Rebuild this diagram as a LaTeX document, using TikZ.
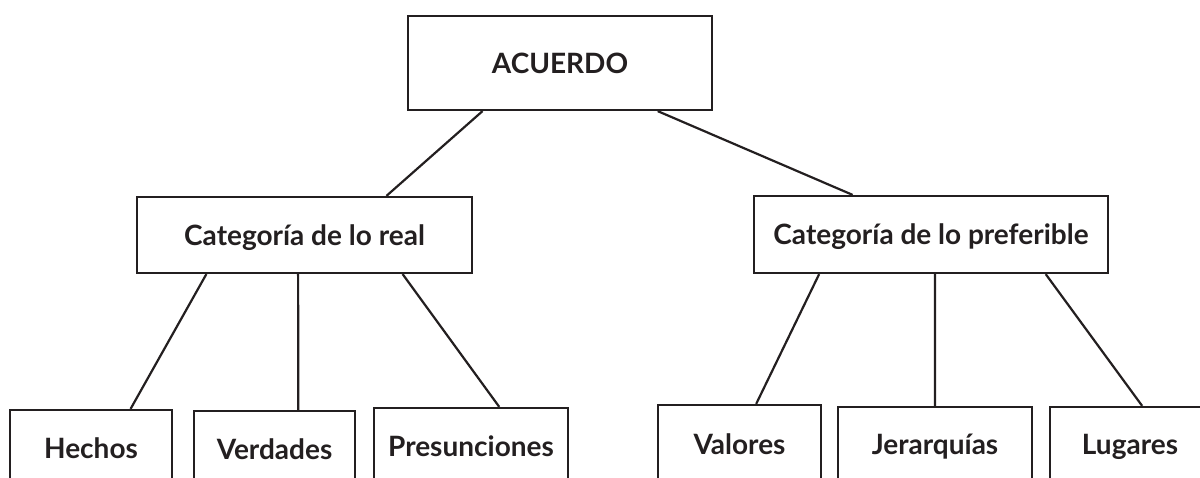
\documentclass[tikz,border=0pt]{standalone}
\usepackage{fontspec}
\setmainfont{Lato}
\usetikzlibrary{calc}
\definecolor{tinta}{RGB}{35,31,32}
\begin{document}
\begin{tikzpicture}[x=1pt, y=-1pt, line width=2.2pt, draw=tinta,
    caja/.style={draw=tinta, rectangle, inner sep=0pt, text=tinta,
      font=\bfseries\fontsize{28}{33}\selectfont, text height=20pt, text depth=0pt},
    hoja/.style={caja, minimum width=162pt, minimum height=76pt}]
  \useasboundingbox (0,0) rectangle (1200,477);
  \clip (0,0) rectangle (1200,477);
  % niveles superiores
  \node[caja, minimum width=304pt, minimum height=94pt] (acuerdo) at (560,63) {ACUERDO};
  \node[caja, minimum width=335pt, minimum height=76pt] (real) at (304.5,235) {Categoría de lo real};
  \node[caja, minimum width=354pt, minimum height=77pt] (preferible) at (931,234.5) {Categoría de lo preferible};
  % hojas
  \node[hoja] (hechos) at (91,448) {Hechos};
  \node[hoja, minimum width=161pt] (verdades) at (274.5,449) {Verdades};
  \node[hoja, minimum width=194pt] (presunciones) at (471,446) {Presunciones};
  \node[hoja, minimum width=163pt, minimum height=78pt] (valores) at (739.5,444) {Valores};
  \node[hoja, minimum width=194pt, minimum height=74pt] (jerarquias) at (935,444) {Jerarquías};
  \node[hoja, minimum width=160pt, minimum height=74pt] (lugares) at (1130,444) {Lugares};
  % conectores
  \foreach \a/\fa/\b/\fb in {acuerdo/0.247/real/0.743, acuerdo/0.819/preferible/0.280,
      real/0.209/hechos/0.741, real/0.481/verdades/0.646, real/0.791/presunciones/0.644,
      preferible/0.186/valores/0.601, preferible/0.511/jerarquias/0.5, preferible/0.822/lugares/0.575}
    \draw ($(\a.south west)!\fa!(\a.south east)$) -- ($(\b.north west)!\fb!(\b.north east)$);
\end{tikzpicture}
\end{document}
